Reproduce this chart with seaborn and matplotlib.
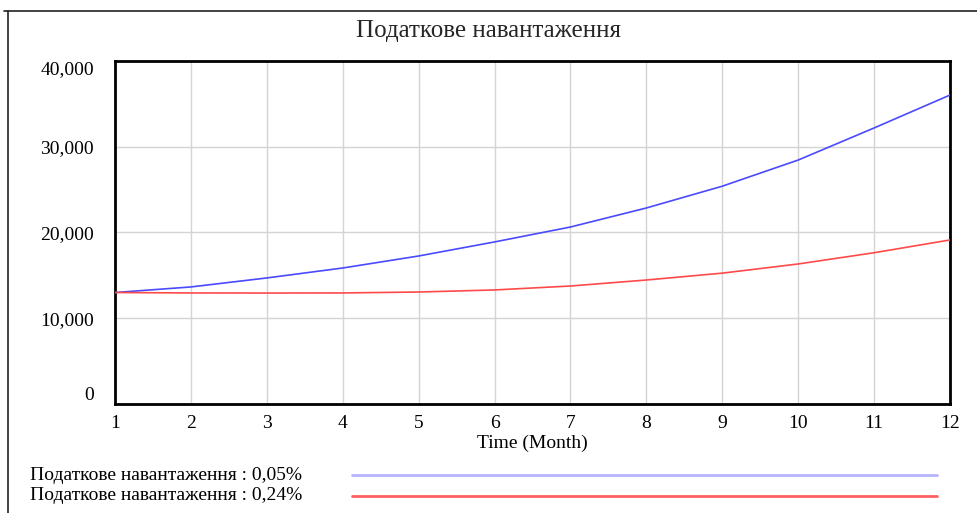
import pandas as pd
import numpy as np
import matplotlib.pyplot as plt
import seaborn as sns
from matplotlib.lines import Line2D

# values
months = [1, 2, 3, 4, 5, 6, 7, 8, 9, 10, 11, 12]
tax_005 = [13000, 13650, 14700, 15860, 17260, 18900, 20640, 22860, 25400, 28450, 32190, 36030]
tax_024 = [13000, 12950, 12940, 12950, 13060, 13300, 13760, 14460, 15260, 16330, 17640, 19130]
series_names = ["Податкове навантаження : 0,05%", "Податкове навантаження : 0,24%"]
line_colors = ["#4a4aff", "#ff4a4a"]
legend_colors = ["#b4b4ff", "#ff6060"]
y_ticks = [0, 10000, 20000, 30000, 40000]
y_labels = ["0", "10,000", "20,000", "30,000", "40,000"]

df = pd.DataFrame({
    "Month": months * 2,
    "Value": tax_005 + tax_024,
    "Series": [series_names[0]] * len(months) + [series_names[1]] * len(months),
})

sns.set_style("white")
plt.rcParams["font.family"] = ["Liberation Serif", "DejaVu Serif"]

fig = plt.figure(figsize=(9.77, 5.13), dpi=100)
ax = fig.add_axes([115 / 977, 109 / 513, 835 / 977, 343 / 513])

sns.lineplot(data=df, x="Month", y="Value", hue="Series", palette=line_colors,
             linewidth=1.2, legend=False, ax=ax, zorder=3)

ax.set_xlim(1, 12)
ax.set_ylim(0, 40000)
ax.set_xticks(months)
ax.set_yticks(y_ticks)
ax.set_yticklabels(y_labels)
ax.grid(True, color="#d4d4d4", linewidth=1.0)
ax.tick_params(axis="both", length=0, labelsize=14, labelcolor="black")
ax.tick_params(axis="y", pad=15)
ax.tick_params(axis="x", pad=8)
# vensim keeps the end labels inside the axis range
ylabs = ax.get_yticklabels()
ylabs[0].set_va("bottom")
ylabs[-1].set_va("top")
for s in ax.spines.values():
    s.set_color("black")
    s.set_linewidth(2)
ax.set_ylabel("")
ax.set_xlabel("Time (Month)", fontsize=14, labelpad=2, color="black")

# title is centred on the whole picture
fig.text(0.5, 1 - 31 / 513, "Податкове навантаження", fontsize=18, ha="center", va="center")

# outer frame (left and top edges visible)
fig.add_artist(Line2D([8 / 977, 8 / 977], [0, 1 - 11 / 513], color="#222222", linewidth=1.2))
fig.add_artist(Line2D([4 / 977, 1], [1 - 11 / 513, 1 - 11 / 513], color="#222222", linewidth=1.2))

# legend at the bottom
for i, (name, c) in enumerate(zip(series_names, legend_colors)):
    y = 1 - (475 + 21 * i) / 513
    fig.text(30 / 977, y, name, fontsize=14, va="center", ha="left", color="black")
    fig.add_artist(Line2D([352 / 977, 937 / 977], [y, y], color=c, linewidth=2))

plt.savefig("out.png", dpi=100)
